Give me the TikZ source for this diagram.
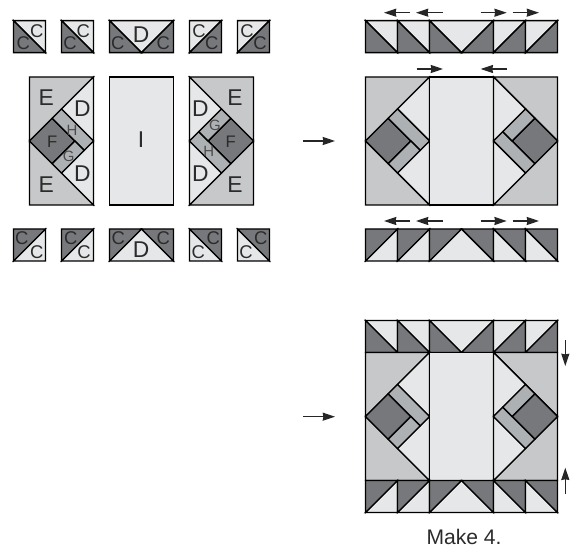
\documentclass[tikz,border=0pt]{standalone}
\usepackage{fontspec}
\setmainfont{Liberation Sans}
\usepackage{xcolor}
\usetikzlibrary{arrows.meta}
\definecolor{patchdark}{HTML}{77787B}
\definecolor{patchlight}{HTML}{E6E7E8}
\definecolor{patchmid}{HTML}{C7C8CA}
\definecolor{patchstrip}{HTML}{AEB1B3}
\definecolor{labelgray}{HTML}{2B2B2B}
\pgfmathsetmacro{\a}{32}
\tikzset{
  every pic/.style={transform shape},
  piece/.style={draw=black,line width=0.8pt,line join=miter},
  dark/.style={piece,fill=patchdark},
  light/.style={piece,fill=patchlight},
  mid/.style={piece,fill=patchmid},
  strip/.style={piece,fill=patchstrip},
  press/.style={draw=black!85,line width=0.7pt,-{Stealth[length=7pt,width=4.6pt,inset=0.4pt]}},
  labbig/.style={inner sep=0pt,text=labelgray,font=\fontsize{13}{13}\selectfont},
  labc/.style={inner sep=0pt,text=labelgray,font=\fontsize{10.5}{10.5}\selectfont},
  labf/.style={inner sep=0pt,text=labelgray,font=\fontsize{9.5}{9.5}\selectfont},
  labsm/.style={inner sep=0pt,text=labelgray!85,font=\fontsize{8.5}{8.5}\selectfont},
  pics/hst/.style={code={
    \draw[light] (0,0) -- (\a,0) -- (\a,\a) -- cycle;
    \draw[dark] (0,0) -- (\a,\a) -- (0,\a) -- cycle;
  }},
  pics/goose/.style={code={
    \draw[light] (0,0) -- (2*\a,0) -- (\a,\a) -- cycle;
    \draw[dark] (0,0) -- (\a,\a) -- (0,\a) -- cycle;
    \draw[dark] (2*\a,0) -- (2*\a,\a) -- (\a,\a) -- cycle;
  }},
  % one row of patches, #1 is the gap between them
  pics/flyrow/.style={code={
    \pic at (0,0) {hst};
    \pic at (\a+#1,0) {hst};
    \pic at (2*\a+2*#1,0) {goose};
    \pic[xscale=-1] at (5*\a+3*#1,0) {hst};
    \pic[xscale=-1] at (6*\a+4*#1,0) {hst};
  }},
  pics/sideblock/.style={code={
    \draw[mid] (0,0) -- (2*\a,0) -- (0,2*\a) -- cycle;
    \draw[mid] (0,2*\a) -- (2*\a,4*\a) -- (0,4*\a) -- cycle;
    \draw[light] (2*\a,0) -- (2*\a,2*\a) -- (\a,\a) -- cycle;
    \draw[light] (2*\a,2*\a) -- (2*\a,4*\a) -- (\a,3*\a) -- cycle;
    \draw[dark] (0,2*\a) -- (0.71*\a,1.29*\a) -- (1.42*\a,2*\a) -- (0.71*\a,2.71*\a) -- cycle;
    \draw[strip] (0.71*\a,1.29*\a) -- (\a,\a) -- (2*\a,2*\a) -- (1.71*\a,2.29*\a) -- cycle;
    \draw[strip] (1.42*\a,2*\a) -- (1.71*\a,2.29*\a) -- (\a,3*\a) -- (0.71*\a,2.71*\a) -- cycle;
  }},
  % side block, centre strip, turned side block
  pics/midrow/.style={code={
    \pic at (0,0) {sideblock};
    \draw[light] (2*\a+#1,0) rectangle ++(2*\a,4*\a);
    \pic[rotate=180] at (6*\a+2*#1,4*\a) {sideblock};
  }},
}

\begin{document}
\begin{tikzpicture}[x=0.02cm,y=-0.02cm]
  \useasboundingbox (0,0) rectangle (572,550);

  % pieces before sewing
  \pic at (13.5,20.7) {flyrow=16};
  \pic at (29.5,77) {midrow=16};
  \pic[yscale=-1] at (13.5,261) {flyrow=16};

  % rows sewn
  \pic at (365.5,20.7) {flyrow=0};
  \pic at (365.5,77) {midrow=0};
  \pic[yscale=-1] at (365.5,261) {flyrow=0};

  % finished block
  \pic at (365.5,320.5) {flyrow=0};
  \pic at (365.5,352.5) {midrow=0};
  \pic[yscale=-1] at (365.5,512.5) {flyrow=0};

  \foreach \x/\y [count=\i] in {36.7/30.7,23.3/42.7,83.3/30.7,70/42.7,117.7/42.7,163.3/42.7,
      199/30.7,211.7/42.7,247/30.7,260/42.7,
      21.7/238.3,36.7/251.7,70.7/238.3,84/251.7,118.3/238.3,163.3/238.3,
      213.3/238.3,198.3/251.7,260.7/238.3,246/251.7}
    \node[labc] (c\i) at (\x,\y) {C};

  \foreach \x/\y/\s [count=\i] in {141/34.7/D,141/249.3/D,82.3/108.7/D,82.3/174/D,200.3/108.7/D,200.3/174/D,
      46.3/97.3/E,46.3/184.3/E,235/97.3/E,235/184.3/E,141/139.3/I}
    \node[labbig] (big\i) at (\x,\y) {\s};

  \node[labf] (f1) at (52.3,141.3) {F};
  \node[labf] (f2) at (230.7,141.3) {F};
  \foreach \x/\y/\s [count=\i] in {72/130/H,68.7/156/G,215/125.3/G,208.7/151.3/H}
    \node[labsm] (sm\i) at (\x,\y) {\s};

  \node[inner sep=0pt,font=\fontsize{12}{12}\selectfont,text=labelgray] (make) at (464,536.7) {Make 4.};

  % pressing arrows
  \foreach \y in {12.7,221}{
    \draw[press] (410,\y) -- (384,\y);
    \draw[press] (442.7,\y) -- (416,\y);
    \draw[press] (480.7,\y) -- (506.7,\y);
    \draw[press] (512.7,\y) -- (539,\y);
  }
  \draw[press] (416.7,69) -- (443,69);
  \draw[press] (506.7,69) -- (480.7,69);
  \draw[press] (303.3,141) -- (335,141);
  \draw[press] (303.3,416.7) -- (335,416.7);
  \draw[press] (565.3,340) -- (565.3,366);
  \draw[press] (565.3,494) -- (565.3,467.7);
\end{tikzpicture}
\end{document}
